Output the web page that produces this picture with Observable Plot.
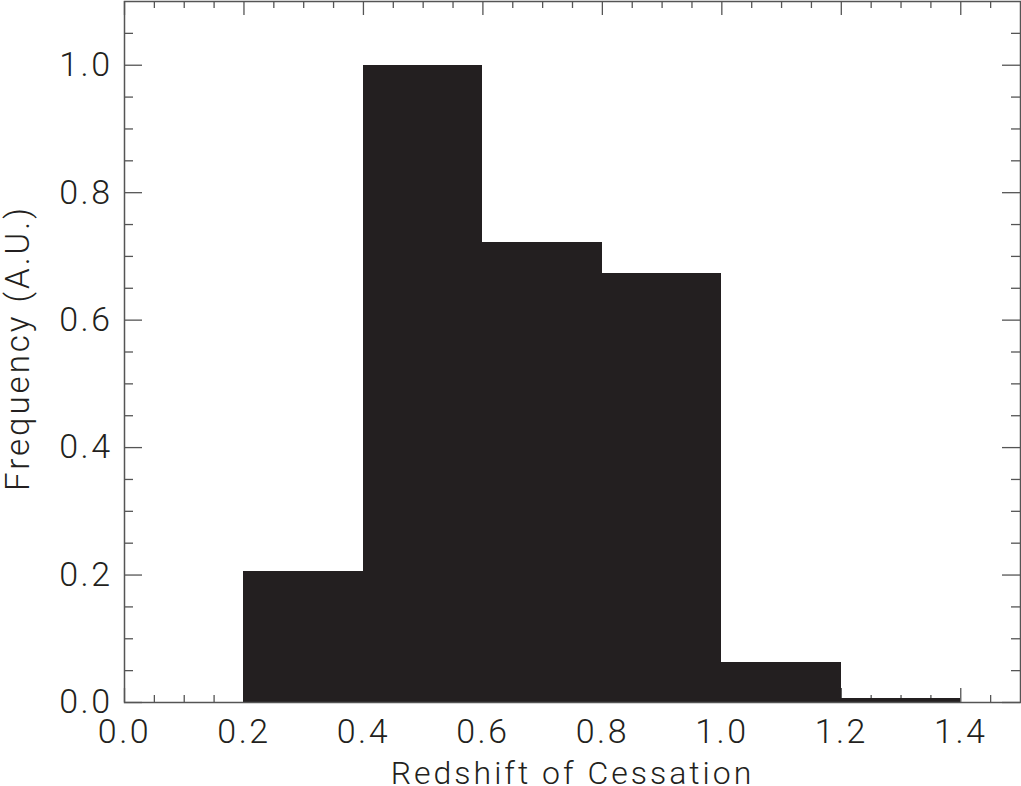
<!DOCTYPE html>
<html>
<head>
<meta charset="utf-8">
<script src="https://cdn.jsdelivr.net/npm/d3@7"></script>
<script src="https://cdn.jsdelivr.net/npm/@observablehq/plot@0.6"></script>
<style>
  html, body { margin: 0; padding: 0; background: #fff; }
  #chart svg { display: block; }
</style>
</head>
<body>
<div id="chart"></div>
<script>
// Histogram bins (lower edge, upper edge) and frequencies
const binStart = [0.2, 0.4, 0.6, 0.8, 1.0, 1.2];
const binEnd   = [0.4, 0.6, 0.8, 1.0, 1.2, 1.4];
const frequency = [0.206, 1.0, 0.722, 0.673, 0.062, 0.007];

const xMajorTicks = [0.0, 0.2, 0.4, 0.6, 0.8, 1.0, 1.2, 1.4];
const xMinorTicks = [0.05,0.1,0.15,0.25,0.3,0.35,0.45,0.5,0.55,0.65,0.7,0.75,0.85,0.9,0.95,1.05,1.1,1.15,1.25,1.3,1.35,1.45];
const yMajorTicks = [0.0, 0.2, 0.4, 0.6, 0.8, 1.0];
const yMinorTicks = [0.05,0.1,0.15,0.25,0.3,0.35,0.45,0.5,0.55,0.65,0.7,0.75,0.85,0.9,0.95,1.05];

const xLabel = "Redshift of Cessation";
const yLabel = "Frequency (A.U.)";

const bins = binStart.map((s, i) => ({x1: s, x2: binEnd[i], y: frequency[i]}));

const W = 1021, H = 786;
const mL = 124, mR = 1, mT = 1, mB = 84;
const innerH = H - mT - mB;
const innerW = W - mL - mR;
const ink = "#231f20";
const axisInk = "#555";
const font = "Roboto, 'Open Sans', 'DejaVu Sans', sans-serif";

const vTick = (len, side) => side === "bottom"
  ? {insetTop: innerH - len}
  : {insetBottom: innerH - len};
const hTick = (len, side) => side === "left"
  ? {insetRight: innerW - len}
  : {insetLeft: innerW - len};

const chart = Plot.plot({
  width: W,
  height: H,
  marginLeft: mL,
  marginRight: mR,
  marginTop: mT,
  marginBottom: mB,
  style: {fontFamily: font, color: ink, background: "#fff"},
  x: {domain: [0, 1.5]},
  y: {domain: [0, 1.1]},
  marks: [
    // ticks (inward, on all four sides)
    Plot.ruleX(xMajorTicks, {x: d => d, stroke: axisInk, strokeWidth: 1.3, ...vTick(14, "bottom")}),
    Plot.ruleX(xMinorTicks, {x: d => d, stroke: axisInk, strokeWidth: 1.3, ...vTick(7, "bottom")}),
    Plot.ruleX(xMajorTicks, {x: d => d, stroke: axisInk, strokeWidth: 1.3, ...vTick(14, "top")}),
    Plot.ruleX(xMinorTicks, {x: d => d, stroke: axisInk, strokeWidth: 1.3, ...vTick(7, "top")}),
    Plot.ruleY(yMajorTicks, {y: d => d, stroke: axisInk, strokeWidth: 1.3, ...hTick(18, "left")}),
    Plot.ruleY(yMinorTicks, {y: d => d, stroke: axisInk, strokeWidth: 1.3, ...hTick(9, "left")}),
    Plot.ruleY(yMajorTicks, {y: d => d, stroke: axisInk, strokeWidth: 1.3, ...hTick(18, "right")}),
    Plot.ruleY(yMinorTicks, {y: d => d, stroke: axisInk, strokeWidth: 1.3, ...hTick(9, "right")}),
    // histogram bars
    Plot.rectY(bins, {x1: "x1", x2: "x2", y: "y", fill: ink, shapeRendering: "crispEdges"}),
    Plot.frame({stroke: axisInk, strokeWidth: 1.5}),
    // axes (labels only)
    Plot.axisX({ticks: xMajorTicks, tickSize: 0, tickPadding: 16, tickFormat: d3.format(".1f"),
      fontSize: 34, fontWeight: 300, fill: ink, label: null, className: "ticklab"}),
    Plot.axisY({ticks: yMajorTicks, tickSize: 0, tickPadding: 12, tickFormat: d3.format(".1f"),
      fontSize: 34, fontWeight: 300, fill: ink, label: null, className: "ticklab"}),
    // axis titles
    Plot.text([xLabel], {text: d => d, frameAnchor: "bottom", dy: 71, lineAnchor: "middle",
      textAnchor: "middle", fontSize: 32, fontWeight: 300, fill: ink}),
    Plot.text([yLabel], {text: d => d, frameAnchor: "left", dx: -106, dy: -4, rotate: -90,
      lineAnchor: "middle", textAnchor: "middle", fontSize: 33, fontWeight: 300, fill: ink})
  ]
});
chart.querySelectorAll("text").forEach(t => t.setAttribute("letter-spacing", "3"));
chart.querySelectorAll(".ticklab text").forEach(t => t.setAttribute("letter-spacing", "2.5"));
document.getElementById("chart").appendChild(chart);
</script>
</body>
</html>
